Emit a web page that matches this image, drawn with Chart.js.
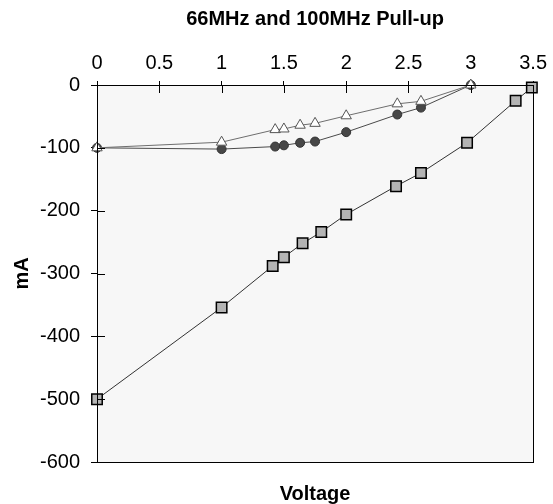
<!DOCTYPE html>
<html>
<head>
<meta charset="utf-8">
<script src="https://cdn.jsdelivr.net/npm/chart.js@4"></script>
<style>
  body { margin: 0; background: #fff; }
  #wrap { width: 553px; height: 504px; }
</style>
</head>
<body>
<div id="wrap"><canvas id="chart" width="553" height="504"></canvas></div>
<script>
// Values
const triX = [0, 1, 1.43, 1.5, 1.63, 1.75, 2, 2.41, 2.6, 3];
const triY = [-100, -91, -71, -70, -64, -61, -49, -30, -26, 0];
const cirX = [0, 1, 1.43, 1.5, 1.63, 1.75, 2, 2.41, 2.6, 3];
const cirY = [-100, -102, -98, -96, -92, -90, -75, -47, -36, 0];
const sqX = [0, 1, 1.41, 1.5, 1.65, 1.8, 2, 2.4, 2.6, 2.97, 3.36, 3.49];
const sqY = [-500, -354, -288, -274, -252, -234, -206, -161, -140, -92, -25, -4];

const xMin = 0, xMax = 3.5, xStep = 0.5;
const yMin = -600, yMax = 0, yStep = 100;

const FONT = "'Liberation Sans', Arial, sans-serif";

const pts = (xs, ys) => xs.map((x, i) => ({ x: x, y: ys[i] }));

// grey plot area behind the data
const plotBg = {
  id: 'plotBg',
  beforeDraw(chart) {
    const { ctx, chartArea: a } = chart;
    ctx.save();
    ctx.fillStyle = '#f7f7f7';
    ctx.fillRect(a.left, a.top, a.right - a.left, a.bottom - a.top);
    ctx.restore();
  }
};

// frame and the inner half of each tick mark
const frameTicks = {
  id: 'frameTicks',
  afterDraw(chart) {
    const { ctx, chartArea: a, scales } = chart;
    ctx.save();
    ctx.strokeStyle = '#000';
    ctx.lineWidth = 1;
    ctx.strokeRect(Math.round(a.left) + 0.5, Math.round(a.top) + 0.5,
      Math.round(a.right - a.left), Math.round(a.bottom - a.top));
    ctx.beginPath();
    scales.x.ticks.forEach(t => {
      const px = Math.round(scales.x.getPixelForValue(t.value)) + 0.5;
      ctx.moveTo(px, a.top);
      ctx.lineTo(px, a.top + 8);
    });
    scales.y.ticks.forEach(t => {
      const py = Math.round(scales.y.getPixelForValue(t.value)) + 0.5;
      ctx.moveTo(a.left, py);
      ctx.lineTo(a.left + 8, py);
    });
    ctx.stroke();
    ctx.restore();
  }
};

new Chart(document.getElementById('chart'), {
  type: 'scatter',
  data: {
    datasets: [
      {
        label: 'tri',
        data: pts(triX, triY),
        showLine: true,
        borderColor: '#6e6e6e',
        borderWidth: 1,
        pointStyle: 'triangle',
        pointRadius: 6,
        pointBackgroundColor: '#ffffff',
        pointBorderColor: '#555555',
        pointBorderWidth: 1,
        clip: false
      },
      {
        label: 'cir',
        data: pts(cirX, cirY),
        showLine: true,
        borderColor: '#4a4a4a',
        borderWidth: 1,
        pointStyle: 'circle',
        pointRadius: 4.5,
        pointBackgroundColor: '#474747',
        pointBorderColor: '#333333',
        pointBorderWidth: 1,
        clip: false
      },
      {
        label: 'sq',
        data: pts(sqX, sqY),
        showLine: true,
        borderColor: '#333333',
        borderWidth: 1,
        pointStyle: 'rect',
        pointRadius: 7.4,
        pointBackgroundColor: '#b4b4b4',
        pointBorderColor: '#000000',
        pointBorderWidth: 1.5,
        clip: false
      }
    ]
  },
  options: {
    responsive: false,
    animation: false,
    layout: { padding: { left: 0, right: 17, top: 0, bottom: 0 } },
    plugins: {
      legend: { display: false },
      tooltip: { enabled: false },
      title: { display: false }
    },
    scales: {
      x: {
        type: 'linear',
        position: 'top',
        min: xMin,
        max: xMax,
        ticks: {
          stepSize: xStep,
          color: '#000',
          padding: 6,
          maxRotation: 0,
          font: { family: FONT, size: 20 },
          callback: v => String(Math.round(v * 10) / 10)
        },
        grid: { drawOnChartArea: false, tickLength: 4, color: '#000' },
        border: { color: '#000' },
        // chart title sits on the top axis so it centres over the plot
        title: {
          display: true,
          text: '66MHz and 100MHz Pull-up',
          color: '#000',
          font: { family: FONT, size: 20, weight: 'bold' },
          padding: { top: 7, bottom: 0 }
        },
        afterFit: s => { s.height = 85; }
      },
      x2: {
        type: 'linear',
        axis: 'x',
        position: 'bottom',
        min: xMin,
        max: xMax,
        ticks: { display: false },
        grid: { display: false, drawTicks: false },
        border: { display: false },
        title: {
          display: true,
          text: 'Voltage',
          color: '#000',
          font: { family: FONT, size: 20, weight: 'bold', lineHeight: 1 },
          padding: { top: 0, bottom: 0 }
        },
        afterFit: s => { s.height = 42; }
      },
      y: {
        type: 'linear',
        position: 'left',
        min: yMin,
        max: yMax,
        ticks: {
          stepSize: yStep,
          color: '#000',
          padding: 11,
          font: { family: FONT, size: 20 }
        },
        grid: { drawOnChartArea: false, tickLength: 6, color: '#000' },
        border: { color: '#000' },
        title: {
          display: true,
          text: 'mA',
          color: '#000',
          font: { family: FONT, size: 20, weight: 'bold' },
          padding: { top: 10, bottom: 0 }
        },
        afterFit: s => { s.width = 97; }
      }
    }
  },
  plugins: [plotBg, frameTicks]
});
</script>
</body>
</html>
